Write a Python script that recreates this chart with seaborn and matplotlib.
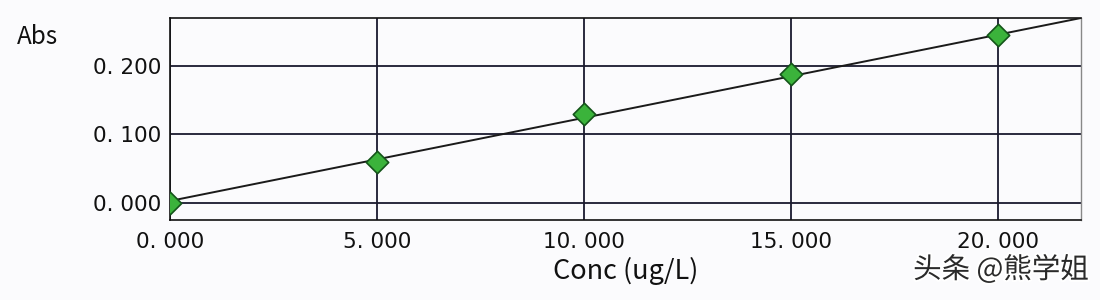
import matplotlib
matplotlib.use("Agg")
import matplotlib.pyplot as plt
import matplotlib.patheffects as pe
from matplotlib.ticker import MultipleLocator, FixedLocator
import numpy as np
import pandas as pd
import seaborn as sns

# ---- data ----
conc = [0.0, 5.0, 10.0, 15.0, 20.0]
absorb = [0.000, 0.060, 0.130, 0.188, 0.245]
x_ticks = [0.0, 5.0, 10.0, 15.0, 20.0]
x_tick_labels = ["0. 000", "5. 000", "10. 000", "15. 000", "20. 000"]
y_ticks = [0.0, 0.1, 0.2]
y_tick_labels = ["0. 000", "0. 100", "0. 200"]
fit_x = [0.0, 22.0]
fit_y = [0.003, 0.270]

sns.set_theme(style="white")
plt.rcParams['font.family'] = ['Noto Sans CJK JP', 'DejaVu Sans']

bg = "#fbfbfd"
fig = plt.figure(figsize=(11, 3), dpi=100, facecolor=bg)
ax = fig.add_axes([170/1100, 1 - 220/300, (1081-170)/1100, (220-18)/300])
ax.set_facecolor(bg)

df_pts = pd.DataFrame({"conc": conc, "abs": absorb})
df_fit = pd.DataFrame({"conc": fit_x, "abs": fit_y})

ax.set_xlim(0, 22.0)
ax.set_ylim(-0.0248, 0.270)

# grid
ax.xaxis.set_major_locator(FixedLocator(x_ticks))
ax.yaxis.set_major_locator(FixedLocator(y_ticks))
ax.xaxis.set_minor_locator(MultipleLocator(1.0))
ax.yaxis.set_minor_locator(MultipleLocator(0.02))
ax.grid(True, which="major", color="#1a1a2e", linewidth=1.3)
ax.set_axisbelow(True)

sns.lineplot(data=df_fit, x="conc", y="abs", ax=ax, color="#1a1a1a",
             linewidth=1.4, zorder=3)
sns.scatterplot(data=df_pts, x="conc", y="abs", ax=ax, marker="D", s=130,
                color="#3bb33b", edgecolor="#14551a", linewidth=1.2, zorder=4)

ax.set_xticklabels(x_tick_labels, family="DejaVu Sans")
ax.set_yticklabels(y_tick_labels, family="DejaVu Sans")
ax.tick_params(axis="both", which="major", length=0, labelsize=15.5,
               labelcolor="#111111")
ax.tick_params(axis="x", which="major", pad=9)
ax.tick_params(axis="y", which="major", pad=6)
ax.tick_params(axis="both", which="minor", direction="inout", length=3,
               width=1.5, color="#222222")
ax.minorticks_on()

ax.set_xlabel("Conc (ug/L)", fontsize=19.5, color="#111111", labelpad=3)
ax.set_ylabel("")

for side in ["left", "bottom", "top"]:
    ax.spines[side].set_color("#111111")
    ax.spines[side].set_linewidth(1.2)
ax.spines["right"].set_color("#888888")
ax.spines["right"].set_linewidth(1.0)

fig.text(17/1100, 1 - 37/300, "Abs", fontsize=17.5, color="#111111",
         ha="left", va="center")

fig.text(1089/1100, 1 - 270/300, "头条 @熊学姐", fontsize=20.5, color="#2a2a2a",
         ha="right", va="center",
         path_effects=[pe.withStroke(linewidth=3, foreground="white")])

fig.savefig("out.png", dpi=100, facecolor=bg)
